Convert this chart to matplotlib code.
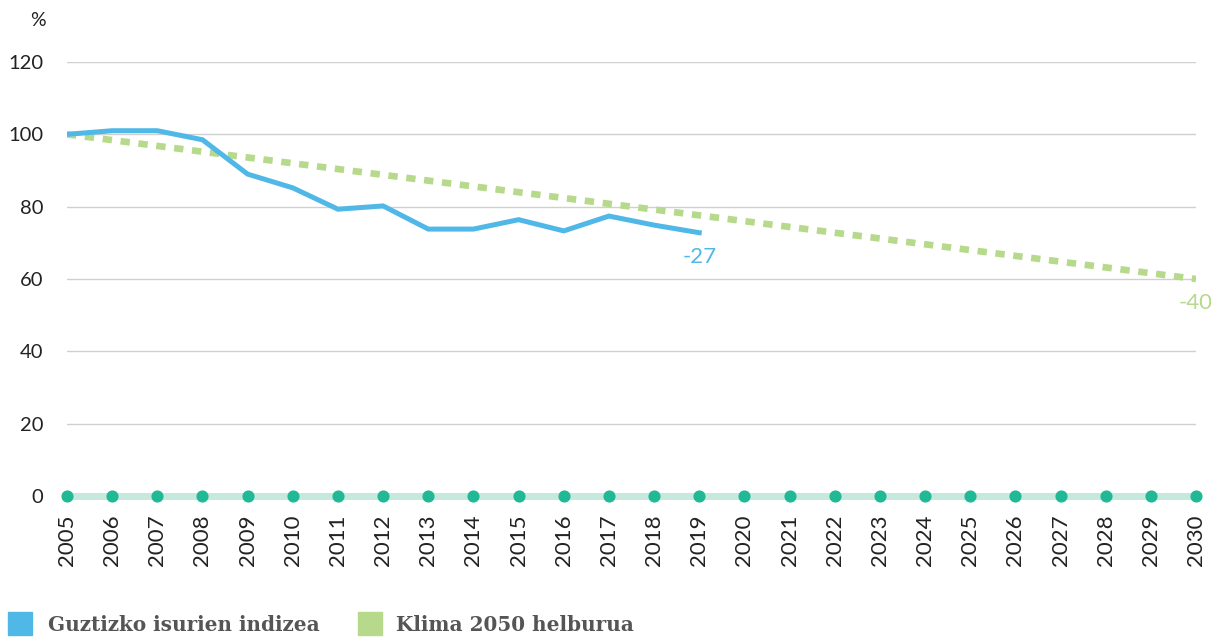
import matplotlib.pyplot as plt
import matplotlib.patches as mpatches
import numpy as np

years = list(range(2005, 2031))
index_years = list(range(2005, 2020))
index_values = [100, 101, 101, 98.5, 89, 85.2, 79.3, 80.2, 73.8, 73.8, 76.4, 73.3, 77.4, 74.9, 72.8]
target_years = [2005, 2030]
target_values = [100, 60]
baseline = [0] * len(years)
yticks = [0, 20, 40, 60, 80, 100, 120]

blue = '#4fb8e7'
green = '#b6d98b'
teal = '#21b995'

fig = plt.figure(figsize=(12.11, 6.37), dpi=100)
ax = fig.add_axes([67 / 1211, (637 - 496) / 637, (1196 - 67) / 1211, (496 - 62) / 637])

for y in yticks[1:]:
    ax.axhline(y, color='#d0d0d0', lw=1, zorder=1)

ax.plot(target_years, target_values, color=green, lw=4.8, ls=(0, (1.4, 1.3)), zorder=2)
ax.plot(index_years, index_values, color=blue, lw=3.6, solid_joinstyle='miter', zorder=3)
ax.plot(years, baseline, color='#c6e9dd', lw=5, zorder=2, clip_on=False)
ax.scatter(years, baseline, color=teal, s=60, zorder=4, clip_on=False)

ax.text(index_years[-1], index_values[-1] - 4, '-27', color=blue, fontsize=16,
        ha='center', va='top', family='Lato')
ax.text(2030, target_values[-1] - 4, '-40', color=green, fontsize=16,
        ha='center', va='top', family='Lato')

ax.set_xlim(2005, 2030)
ax.set_ylim(0, 120)
ax.set_yticks(yticks)
ax.set_yticklabels([str(v) for v in yticks], fontsize=14.5, color='#222222', family='Lato')
ax.set_xticks(years)
ax.set_xticklabels([str(y) for y in years], rotation=90, fontsize=16, color='#222222', family='Lato')
ax.tick_params(length=0)
ax.tick_params(axis='x', pad=13)
ax.tick_params(axis='y', pad=17)
for s in ax.spines.values():
    s.set_visible(False)

fig.text(38 / 1211, 1 - 20 / 637, '%', fontsize=14, color='#222222', ha='center', va='center', family='Lato')

fig.patches.append(mpatches.Rectangle((8 / 1211, 2 / 637), 24 / 1211, 23 / 637, color=blue, transform=fig.transFigure))
fig.patches.append(mpatches.Rectangle((358 / 1211, 2 / 637), 24 / 1211, 23 / 637, color=green, transform=fig.transFigure))
fig.text(48 / 1211, 12 / 637, 'Guztizko isurien indizea', fontsize=14.4, fontweight='bold',
         color='#555555', va='center', family='DejaVu Serif')
fig.text(396 / 1211, 12 / 637, 'Klima 2050 helburua', fontsize=14.4, fontweight='bold',
         color='#555555', va='center', family='DejaVu Serif')

fig.savefig('out.png', dpi=100)
